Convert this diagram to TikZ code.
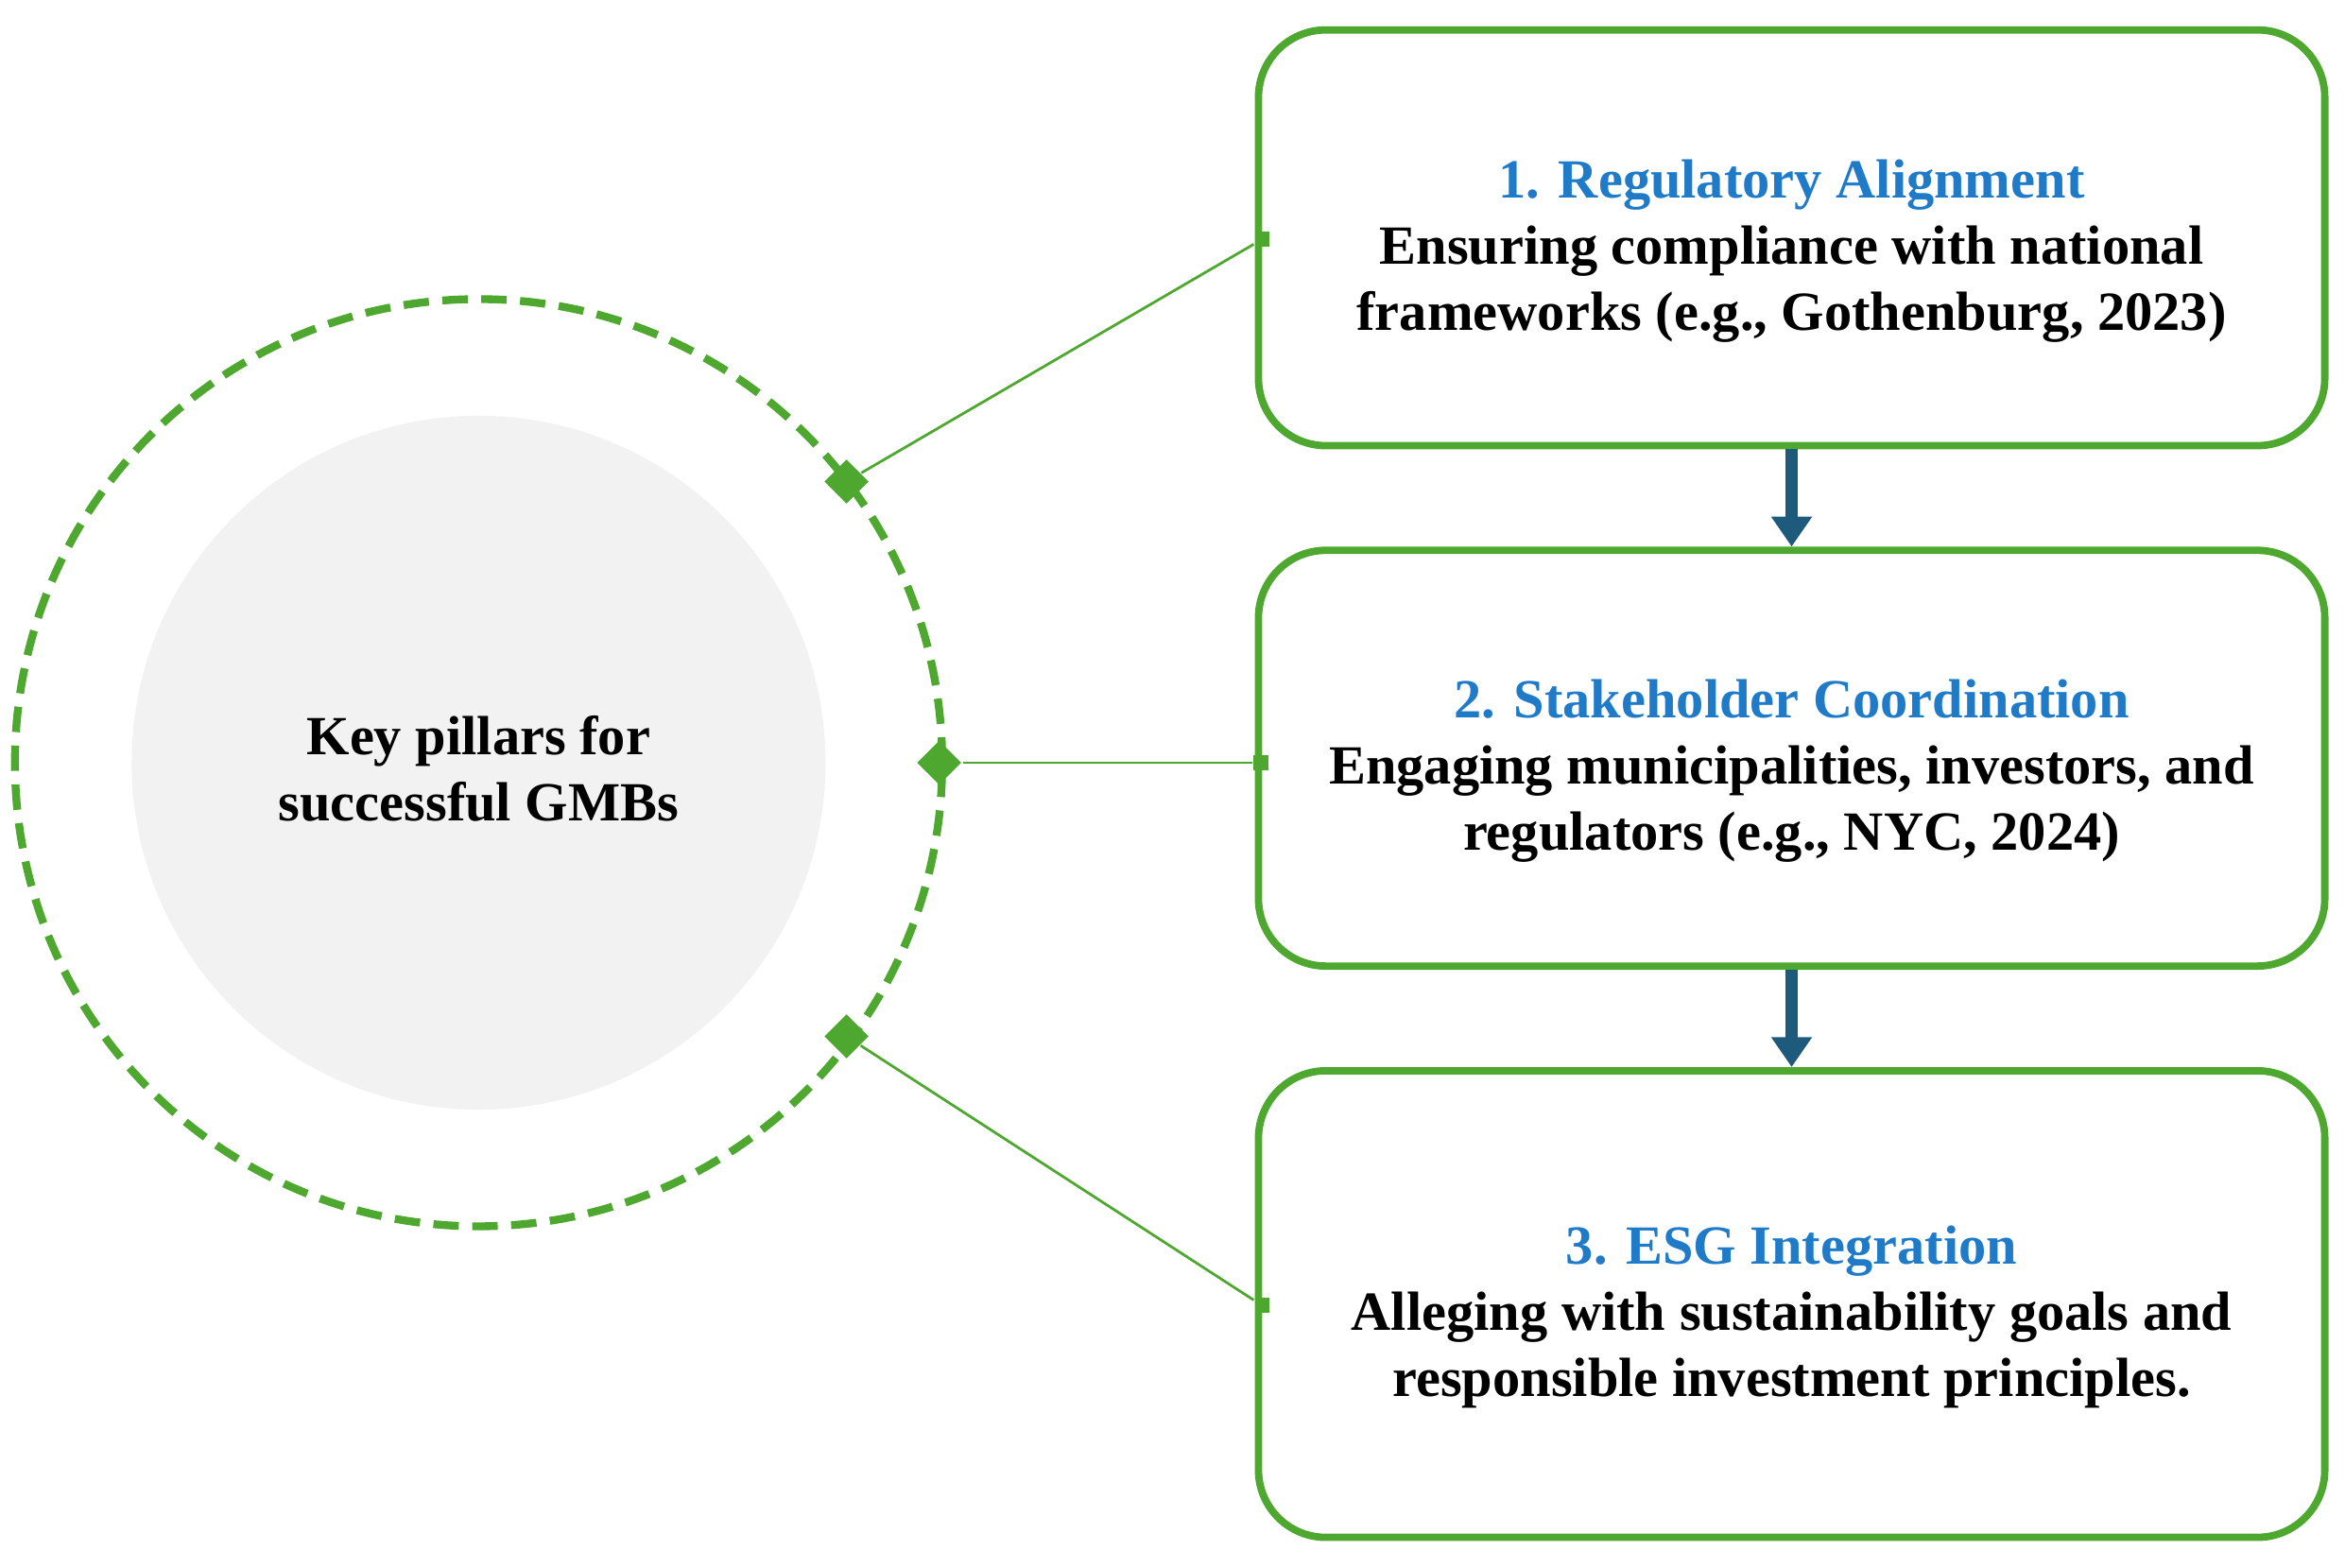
\documentclass[tikz,border=0pt]{standalone}
\usepackage{fontspec}
\setmainfont{Liberation Serif}
\usetikzlibrary{shapes.geometric, arrows.meta}
\definecolor{pgreen}{HTML}{4EA72E}
\definecolor{ptitle}{HTML}{1F7BC8}
\definecolor{parrow}{HTML}{1D5A7C}
\definecolor{pgray}{HTML}{F2F2F2}
\newcommand{\lowr}{\rule{0pt}{\dimexpr\ht\strutbox+0.12cm}}
\begin{document}
\begin{tikzpicture}[x=0.01cm, y=-0.01cm,
    box/.style={draw=pgreen, line width=1.4pt, rounded corners=0.45cm, minimum width=713*0.01cm, align=center, font=\fontsize{10.5}{12.6}\selectfont\bfseries},
    dia/.style={diamond, fill=pgreen, inner sep=0pt, minimum size=0.3cm},
    sq/.style={rectangle, fill=pgreen, inner sep=0pt, minimum size=0.1cm},
    link/.style={pgreen, line width=0.5pt},
    flow/.style={parrow, line width=2.4pt, -{Triangle[length=0.2cm, width=0.26cm]}},
    ttl/.style={ptitle}]
  \useasboundingbox (0,0) rectangle (1568,1048);
  % Circles
  \fill[pgray] (320,510) circle (232*0.01cm);
  \draw[pgreen, line width=1.5pt, dash pattern=on 0.17cm off 0.09cm] (320,510) circle (310*0.01cm);
  \node[align=center, font=\fontsize{10.5}{12.6}\selectfont\bfseries] (key) at (320,514) {Key pillars for\\successful GMBs};
  % Boxes
  \node[box, minimum height=278*0.01cm] (b1) at (1198,159) {\lowr\textcolor{ptitle}{1. Regulatory Alignment}\\Ensuring compliance with national\\frameworks (e.g., Gothenburg, 2023)};
  \node[box, minimum height=278*0.01cm] (b2) at (1198,507) {\lowr\textcolor{ptitle}{2. Stakeholder Coordination}\\Engaging municipalities, investors, and\\regulators (e.g., NYC, 2024)};
  \node[box, minimum height=312*0.01cm] (b3) at (1198,872) {\lowr\textcolor{ptitle}{3. ESG Integration}\\Alleging with sustainability goals and\\responsible investment principles.};
  % Arrows
  \draw[flow] (b1.south) -- (b2.north);
  \draw[flow] (b2.south) -- (b3.north);
  % Connectors
  \node[dia] (d1) at (566,322) {};
  \node[dia] (d2) at (628,510) {};
  \node[dia] (d3) at (566,693) {};
  \node[sq] (s1) at (844,160) {};
  \node[sq] (s2) at (843,510) {};
  \node[sq] (s3) at (844,873) {};
  \draw[link] (d1) -- (s1);
  \draw[link] (d2) -- (s2);
  \draw[link] (d3) -- (s3);
\end{tikzpicture}
\end{document}
